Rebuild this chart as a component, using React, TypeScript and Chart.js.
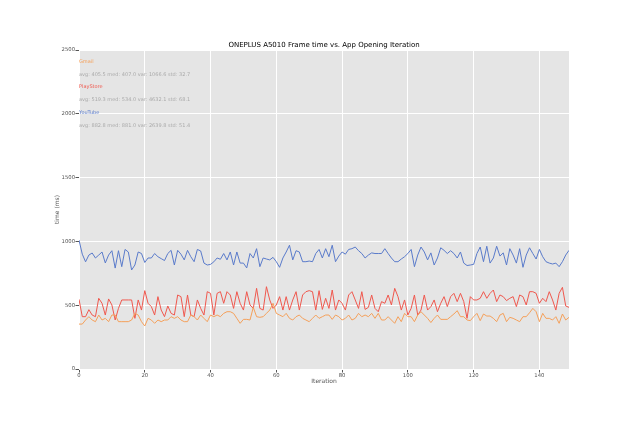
import React, { useEffect, useRef } from 'react';
import { Chart, registerables, type ChartConfiguration, type Plugin } from 'chart.js';

Chart.register(...registerables);

const TITLE = 'ONEPLUS A5010 Frame time vs. App Opening Iteration';

const apps = ['Gmail', 'PlayStore', 'YouTube'];
const appColors = ['#F5A05A', '#F0584E', '#5A7BCB'];
const appStats = [
  'avg: 405.5 med: 407.0 var: 1066.6 std: 32.7',
  'avg: 519.3 med: 534.0 var: 4632.1 std: 68.1',
  'avg: 882.8 med: 881.0 var: 2639.8 std: 51.4',
];

const gmail = [
  352, 352, 384, 410, 384, 371, 423, 384, 397, 371, 423, 423, 371, 371, 371, 371, 384, 436, 423, 371,
  337, 397, 384, 358, 384, 371, 384, 384, 410, 397, 410, 384, 371, 371, 423, 410, 384, 423, 397, 371,
  423, 410, 423, 410, 436, 449, 449, 436, 397, 358, 389, 389, 384, 483, 410, 405, 410, 436, 462, 515,
  436, 423, 410, 436, 397, 384, 410, 423, 397, 384, 371, 397, 423, 397, 410, 423, 423, 389, 423, 410,
  384, 397, 423, 384, 397, 436, 410, 423, 410, 436, 397, 436, 384, 384, 410, 384, 358, 410, 371, 436,
  410, 410, 371, 423, 449, 423, 397, 364, 397, 423, 389, 389, 389, 410, 431, 457, 410, 410, 384, 379,
  410, 436, 379, 431, 415, 415, 397, 371, 423, 436, 371, 405, 397, 384, 371, 410, 410, 441, 475, 449,
  371, 436, 397, 397, 384, 410, 358, 431, 384, 405,
];

const playStore = [
  546, 410, 410, 465, 423, 410, 554, 515, 423, 549, 502, 384, 475, 541, 541, 541, 541, 397, 541, 462,
  614, 515, 489, 423, 567, 462, 410, 494, 436, 423, 580, 567, 410, 580, 423, 410, 541, 475, 423, 606,
  593, 423, 593, 606, 515, 606, 580, 475, 606, 515, 462, 606, 502, 475, 632, 475, 462, 645, 541, 475,
  502, 567, 462, 567, 462, 541, 606, 462, 580, 606, 614, 606, 462, 614, 467, 554, 475, 619, 462, 541,
  515, 462, 580, 606, 541, 475, 606, 467, 483, 580, 475, 449, 528, 515, 580, 502, 632, 567, 462, 541,
  423, 475, 580, 423, 462, 580, 462, 489, 541, 449, 515, 567, 489, 567, 593, 528, 593, 528, 397, 567,
  541, 541, 554, 606, 554, 593, 619, 528, 580, 567, 536, 554, 567, 489, 580, 567, 502, 606, 606, 593,
  515, 554, 528, 606, 541, 462, 593, 640, 494, 483,
];

const youTube = [
  1010, 900, 840, 893, 909, 870, 893, 917, 831, 893, 927, 791, 927, 802, 937, 917, 776, 815, 917, 905,
  835, 870, 870, 905, 880, 865, 850, 905, 930, 815, 930, 900, 855, 930, 880, 841, 937, 925, 830, 815,
  820, 840, 870, 860, 905, 855, 917, 815, 917, 830, 830, 792, 905, 870, 943, 802, 870, 862, 855, 875,
  841, 797, 870, 917, 970, 855, 927, 917, 841, 841, 846, 841, 905, 937, 870, 943, 880, 970, 841, 885,
  917, 900, 937, 943, 956, 927, 905, 870, 893, 910, 905, 905, 905, 943, 905, 870, 841, 841, 862, 880,
  905, 937, 802, 893, 956, 917, 855, 910, 815, 870, 950, 930, 905, 927, 905, 870, 917, 830, 811, 815,
  820, 905, 956, 841, 962, 830, 870, 962, 885, 910, 815, 943, 893, 830, 943, 797, 893, 950, 905, 862,
  937, 880, 841, 830, 823, 830, 802, 841, 893, 930,
];

const seriesValues = [gmail, playStore, youTube];

const FONT = "'DejaVu Sans', sans-serif";

const decorations: Plugin = {
  id: 'decorations',
  beforeDraw(chart) {
    const { ctx, chartArea } = chart;
    ctx.save();
    ctx.fillStyle = '#E5E5E5';
    ctx.fillRect(chartArea.left, chartArea.top, chartArea.right - chartArea.left, chartArea.bottom - chartArea.top);
    ctx.restore();
  },
  afterDraw(chart) {
    const { ctx, chartArea } = chart;
    ctx.save();
    ctx.fillStyle = '#000';
    ctx.font = `7px ${FONT}`;
    ctx.textAlign = 'center';
    ctx.textBaseline = 'middle';
    ctx.fillText(TITLE, (chartArea.left + chartArea.right) / 2, 45);

    ctx.textAlign = 'left';
    ctx.font = `5px ${FONT}`;
    apps.forEach((name, i) => {
      const y = 61.5 + i * 25.5;
      ctx.fillStyle = appColors[i];
      ctx.fillText(name, chartArea.left, y);
      ctx.fillStyle = '#AAAAAA';
      ctx.fillText(appStats[i], chartArea.left, y + 13);
    });
    ctx.restore();
  },
};

const App: React.FC = () => {
  const canvasRef = useRef<HTMLCanvasElement | null>(null);
  const chartRef = useRef<Chart | null>(null);

  useEffect(() => {
    if (!canvasRef.current) return;

    const config: ChartConfiguration<'line'> = {
      type: 'line',
      data: {
        datasets: apps.map((name, i) => ({
          label: name,
          data: seriesValues[i].map((v, idx) => ({ x: idx, y: v })),
          borderColor: appColors[i],
          backgroundColor: appColors[i],
          borderWidth: 1,
          pointRadius: 0,
          tension: 0,
          fill: false,
        })),
      },
      options: {
        responsive: false,
        animation: false,
        layout: { padding: { left: 54, right: 64, top: 50, bottom: 37 } },
        plugins: {
          legend: { display: false },
          title: { display: false },
          tooltip: { enabled: false },
        },
        scales: {
          x: {
            type: 'linear',
            min: 0,
            max: 149,
            afterFit: (scale) => {
              scale.height = 16;
            },
            ticks: {
              stepSize: 20,
              includeBounds: false,
              color: '#555555',
              padding: 0,
              font: { family: FONT, size: 5.3 },
              callback: (v) => String(v),
            },
            grid: { color: '#FFFFFF', lineWidth: 1, tickLength: 3.5, tickColor: '#555555' },
            border: { display: false },
            title: {
              display: true,
              text: 'Iteration',
              color: '#555555',
              padding: 0,
              font: { family: FONT, size: 6 },
            },
          },
          y: {
            min: 0,
            max: 2500,
            afterFit: (scale) => {
              scale.width = 25;
            },
            ticks: {
              stepSize: 500,
              color: '#555555',
              padding: 0.5,
              font: { family: FONT, size: 5.3 },
              callback: (v) => String(v),
            },
            grid: { color: '#FFFFFF', lineWidth: 1, tickLength: 3.5, tickColor: '#555555' },
            border: { display: false },
            title: {
              display: true,
              text: 'time (ms)',
              color: '#555555',
              padding: 0,
              font: { family: FONT, size: 6 },
            },
          },
        },
      },
      plugins: [decorations],
    };

    chartRef.current = new Chart(canvasRef.current, config);

    return () => {
      if (chartRef.current) {
        chartRef.current.destroy();
        chartRef.current = null;
      }
    };
  }, []);

  return (
    <div style={{ position: 'fixed', left: 0, top: 0, width: 633, height: 422, background: '#fff' }}>
      <canvas ref={canvasRef} width={633} height={422} style={{ display: 'block' }} />
    </div>
  );
};

export default App;
